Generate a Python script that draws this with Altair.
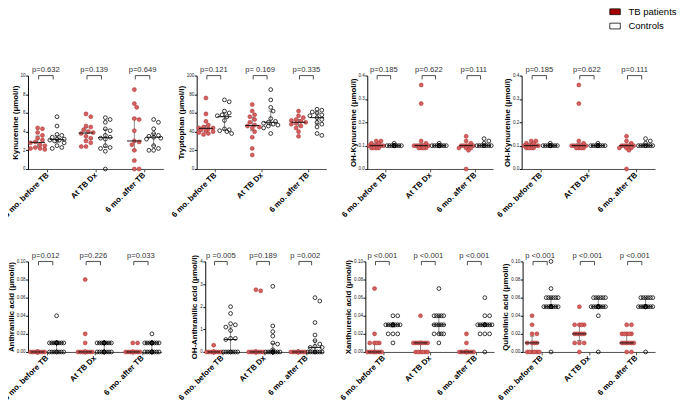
import math
import altair as alt
import pandas as pd
import numpy as np

# ---------------- data ----------------
groups = ["6 mo. before TB", "At TB Dx", "6 mo. after TB"]
kinds = ["TB patients", "Controls"]

# Kynurenine
kyn_tb = [[4.4, 4.3, 3.9, 3.6, 3.3, 3.1, 2.9, 2.8, 2.6, 2.5, 2.3, 2.2, 2.2, 2.1],
          [5.9, 5.6, 4.6, 4.5, 4.2, 4.0, 3.9, 3.8, 3.5, 3.3, 3.0, 2.8, 2.4, 2.4],
          [8.5, 7.0, 6.6, 5.4, 5.3, 4.1, 3.0, 2.9, 2.6, 2.0, 0.9, 0.0, 0.0]]
kyn_c = [[5.6, 4.6, 3.7, 3.6, 3.4, 3.2, 3.2, 3.1, 3.1, 3.0, 2.8, 2.5, 2.3, 2.2],
         [5.5, 5.3, 5.0, 4.3, 4.1, 3.6, 3.4, 3.3, 3.2, 2.5, 2.3, 2.2, 1.9, 0.0],
         [5.3, 5.0, 4.3, 3.8, 3.6, 3.5, 3.4, 3.3, 3.2, 2.5, 2.2, 2.0, 2.0]]
kyn_p = ["p=0.632", "p=0.139", "p=0.649"]

# Tryptophan
trp_tb = [[76, 59, 51, 47, 45, 44, 44, 43, 42, 41, 40, 39, 38, 37],
          [69, 62, 58, 56, 53, 50, 47, 46, 45, 44, 40, 34, 22, 15],
          [62, 57, 55, 53, 52, 51, 50, 49, 48, 46, 44, 40, 35]]
trp_c = [[74, 72, 62, 60, 58, 57, 56, 52, 43, 42, 41, 40, 38],
         [85, 74, 66, 62, 54, 51, 50, 49, 48, 47, 46, 44, 38],
         [64, 63, 61, 60, 58, 57, 55, 53, 50, 48, 45, 38, 36]]
trp_p = ["p=0.121", "p= 0.169", "p=0.335"]

# OH-Kynurenine
ohk_tb = [[0.12, 0.12, 0.11, 0.11, 0.10, 0.10, 0.10, 0.10, 0.10, 0.09, 0.09, 0.09, 0.09],
          [0.36, 0.28, 0.12, 0.11, 0.10, 0.10, 0.10, 0.10, 0.10, 0.10, 0.09, 0.09, 0.09, 0.09],
          [0.14, 0.12, 0.11, 0.10, 0.10, 0.10, 0.10, 0.10, 0.09, 0.09, 0.09, 0.08, 0.0]]
ohk_c = [[0.11, 0.10, 0.10, 0.10, 0.10, 0.10, 0.10, 0.10, 0.10, 0.10, 0.10, 0.10],
         [0.11, 0.10, 0.10, 0.10, 0.10, 0.10, 0.10, 0.10, 0.10, 0.10, 0.10, 0.10],
         [0.13, 0.12, 0.11, 0.10, 0.10, 0.10, 0.10, 0.10, 0.10, 0.10, 0.10]]
ohk_p = ["p=0.185", "p=0.622", "p=0.111"]

# Anthranilic acid
aa_tb = [[0.0] * 12,
         [0.08, 0.02, 0.01] + [0.0] * 10,
         [0.01, 0.01] + [0.0] * 10]
aa_c = [[0.04] + [0.01] * 12 + [0.0] * 8,
        [0.01] * 12 + [0.0] * 10,
        [0.02] + [0.01] * 12 + [0.0] * 10]
aa_p = ["p=0.012", "p=0.226", "p=0.033"]

# OH-Anthranilic acid
oha_tb = [[0.3] + [0.0] * 12,
          [2.75, 2.7] + [0.0] * 12,
          [0.0] * 12]
oha_c = [[2.0, 1.7, 1.25, 1.2, 1.1, 0.95, 0.6, 0.6, 0.55] + [0.0] * 8,
         [2.9, 1.15, 0.9, 0.7, 0.4, 0.35, 0.1] + [0.0] * 12,
         [2.4, 2.25, 1.3, 0.75, 0.5, 0.35, 0.25, 0.2, 0.2] + [0.0] * 8]
oha_p = ["p =0.005", "p=0.189", "p =0.002"]

# Xanthurenic acid
xa_tb = [[0.07, 0.02, 0.01, 0.01, 0.01, 0.01] + [0.0] * 8,
         [0.04] + [0.01] * 8 + [0.0] * 6,
         [0.02, 0.01] + [0.0] * 10]
xa_c = [[0.04, 0.04] + [0.03] * 10 + [0.02] * 3 + [0.01],
        [0.07] + [0.04] * 5 + [0.03] * 5 + [0.02] * 4 + [0.01],
        [0.06] + [0.04] * 2 + [0.03] * 10 + [0.02] * 3 + [0.0]]
xa_p = ["p <0.001", "p <0.001", "p <0.001"]

# Quinolinic acid
qa_tb = [[0.04, 0.03, 0.02, 0.02, 0.01, 0.01, 0.01, 0.01] + [0.0] * 6,
         [0.05] + [0.03] * 4 + [0.02] * 5 + [0.01] * 3 + [0.0],
         [0.03] * 2 + [0.02] * 5 + [0.01] * 6 + [0.0] * 2]
qa_c = [[0.10, 0.07] + [0.06] * 6 + [0.05] * 12 + [0.0],
        [0.06] * 6 + [0.05] * 12 + [0.04] + [0.0],
        [0.06] * 6 + [0.05] * 12 + [0.0]]
qa_p = ["p <0.001", "p <0.001", "p <0.001"]

U = " (\u03bcmol/l)"
panels_row1 = [
    dict(title="Kynurenine" + U, ymax=10, ticks=[0, 2, 4, 6, 8, 10], fmt="d", tb=kyn_tb, c=kyn_c, p=kyn_p),
    dict(title="Tryptophan" + U, ymax=100, ticks=[0, 20, 40, 60, 80, 100], fmt="d", tb=trp_tb, c=trp_c, p=trp_p),
    dict(title="OH-Kynurenine" + U, ymax=0.4, ticks=[0, 0.1, 0.2, 0.3, 0.4], fmt=".1f", tb=ohk_tb, c=ohk_c, p=ohk_p),
    dict(title="OH-Kynurenine" + U, ymax=0.4, ticks=[0, 0.1, 0.2, 0.3, 0.4], fmt=".1f", tb=ohk_tb, c=ohk_c, p=ohk_p),
]
panels_row2 = [
    dict(title="Anthranilic acid" + U, ymax=0.10, ticks=[0, 0.02, 0.04, 0.06, 0.08, 0.10], fmt=".2f", tb=aa_tb, c=aa_c, p=aa_p),
    dict(title="OH-Anthranilic acid" + U, ymax=4, ticks=[0, 1, 2, 3, 4], fmt="d", tb=oha_tb, c=oha_c, p=oha_p),
    dict(title="Xanthurenic acid" + U, ymax=0.10, ticks=[0, 0.02, 0.04, 0.06, 0.08, 0.10], fmt=".2f", tb=xa_tb, c=xa_c, p=xa_p),
    dict(title="Quinolinic acid" + U, ymax=0.10, ticks=[0, 0.02, 0.04, 0.06, 0.08, 0.10], fmt=".2f", tb=qa_tb, c=qa_c, p=qa_p),
]

# ---------------- layout / style ----------------
XMAX = 7.0
TB_POS = [0.5, 3.0, 5.5]
C_POS = [1.5, 4.0, 6.5]
LAB_POS = [1.0, 3.5, 6.0]
ROW1_W = [142, 136, 132, 140]
ROW1_GAP = [35, 43, 30]
ROW2_W = [140, 124, 135, 139]
ROW2_GAP = [46, 44, 30]
ROW1_H = 98
ROW2_H = 95
FONT = "Liberation Sans"
TB_FILL = "#d4605f"
TB_STROKE = "#a52a2a"
STEP, COLL, MAXK = 2.5, 4.4, 3


def swarm(vals, ymax, h, w):
    xunit = w / XMAX
    order = sorted(range(len(vals)), key=lambda i: -vals[i])
    cands = [0.0]
    for k in range(1, MAXK + 1):
        cands += [k * STEP, -k * STEP]
    placed = []
    offs = [0.0] * len(vals)
    for i in order:
        y = vals[i] / ymax * h
        best, bestd = 0.0, -1.0
        for c in cands:
            d = min((math.hypot(c - px, y - py) for px, py in placed), default=1e9)
            if d >= COLL:
                best = c
                break
            if d > bestd:
                best, bestd = c, d
        placed.append((best, y))
        offs[i] = best / xunit
    return offs


label_expr = (f"datum.value < 2 ? '{groups[0]}' : datum.value < 5 ? '{groups[1]}' : '{groups[2]}'")


def make_panel(spec, w, h, legend=False):
    ymax = spec["ymax"]
    pts, summ, br = [], [], []
    for g in range(3):
        for kind, pos, vals in (("tb", TB_POS[g], spec["tb"][g]), ("c", C_POS[g], spec["c"][g])):
            offs = swarm(vals, ymax, h, w)
            for v, o in zip(vals, offs):
                pts.append(dict(x=pos + o, y=v, kind=kind))
            a = np.array(vals, dtype=float)
            summ.append(dict(kind=kind, pos=pos, med=float(np.median(a)),
                             q1=float(np.percentile(a, 25)), q3=float(np.percentile(a, 75)),
                             ml=pos - 0.38, mr=pos + 0.38, cl=pos - 0.12, cr=pos + 0.12))
        x1, x2 = TB_POS[g] + 0.05, C_POS[g] - 0.2
        br.append(dict(x1=x1, x2=x2, xm=(x1 + x2) / 2, y=ymax, ycap=ymax * (1 - 4.0 / h), txt=spec["p"][g]))
    pts = pd.DataFrame(pts)
    summ = pd.DataFrame(summ)
    br = pd.DataFrame(br)

    xscale = alt.Scale(domain=[0, XMAX], nice=False, zero=False)
    yscale = alt.Scale(domain=[0, ymax], nice=False)
    xaxis = alt.Axis(values=LAB_POS, labelExpr=label_expr, labelAngle=-45, labelAlign="right",
                     labelBaseline="middle", labelFontSize=8.3, labelFontWeight="bold", labelFont=FONT,
                     labelColor="black", tickSize=3, tickColor="#444", domainColor="#444",
                     labelPadding=2, grid=False, title=None, labelOverlap=False, labelBound=False)
    yaxis = alt.Axis(values=spec["ticks"], format=spec["fmt"], title=spec["title"], titleFont=FONT,
                     titleFontSize=8.3, titleFontWeight="bold", titleColor="black", titlePadding=1,
                     labelFontSize=4.8, labelFont=FONT, labelColor="#222", labelPadding=0.5,
                     tickSize=2.5, tickColor="black", domainColor="black", grid=False, labelOverlap=False,
                     labelFlush=False)

    def X(f):
        return alt.X(f, type="quantitative", scale=xscale, axis=xaxis)

    def Y(f):
        return alt.Y(f, type="quantitative", scale=yscale, axis=yaxis)

    ptb = alt.Chart(pts[pts.kind == "tb"]).mark_circle(
        size=18, fill=TB_FILL, stroke=TB_STROKE, strokeWidth=0.5, opacity=1).encode(x=X("x"), y=Y("y"))
    pc = alt.Chart(pts[pts.kind == "c"]).mark_point(
        shape="circle", filled=False, size=16, stroke="black", strokeWidth=0.8, opacity=1).encode(x=X("x"), y=Y("y"))
    sb = alt.Chart(summ)
    ebar = sb.mark_rule(color="#666", strokeWidth=0.8).encode(x=X("pos"), y=Y("q1"), y2="q3")
    cap1 = sb.mark_rule(color="#666", strokeWidth=0.8).encode(x=X("cl"), x2="cr", y=Y("q1"))
    cap2 = sb.mark_rule(color="#666", strokeWidth=0.8).encode(x=X("cl"), x2="cr", y=Y("q3"))
    med = sb.mark_rule(color="#111", strokeWidth=1).encode(x=X("ml"), x2="mr", y=Y("med"))
    bb = alt.Chart(br)
    bline = bb.mark_rule(color="#333", strokeWidth=0.9).encode(x=X("x1"), x2="x2", y=Y("y"))
    bcap1 = bb.mark_rule(color="#333", strokeWidth=0.9).encode(x=X("x1"), y=Y("y"), y2="ycap")
    bcap2 = bb.mark_rule(color="#333", strokeWidth=0.9).encode(x=X("x2"), y=Y("y"), y2="ycap")
    btxt = bb.mark_text(fontSize=8, font=FONT, color="#333", baseline="bottom", dy=-2).encode(
        x=X("xm"), y=Y("y"), text="txt:N")
    layers = [ebar, cap1, cap2, ptb, pc, med, bline, bcap1, bcap2, btxt]
    if legend:
        ldf = pd.DataFrame({"kind": kinds, "x": [None, None], "y": [None, None]})
        leg = alt.Chart(ldf).mark_point(filled=True, shape="M-1,-0.55H1V0.55H-1Z", stroke="black",
                                        strokeWidth=0.8, size=121, opacity=1).encode(
            x=X("x"), y=Y("y"),
            fill=alt.Fill("kind:N", scale=alt.Scale(domain=kinds, range=["#a80000", "white"]),
                          legend=alt.Legend(orient="none", legendX=610, legendY=-73, title=None,
                                            symbolType="M-1,-0.55H1V0.55H-1Z", symbolSize=121,
                                            symbolStrokeColor="black", symbolStrokeWidth=0.8,
                                            labelFontSize=10, labelFont=FONT, labelColor="black",
                                            rowPadding=4, labelOffset=8)))
        layers.append(leg)
    return alt.layer(*layers).properties(width=w, height=h)


def spacer(w, h):
    return alt.Chart(pd.DataFrame({"s": [0]})).mark_point(opacity=0).encode(
        x=alt.value(0), y=alt.value(0)).properties(width=w, height=h)


def make_row(specs, widths, gaps, h, legend_idx=None):
    items = []
    for i, (s, w) in enumerate(zip(specs, widths)):
        items.append(make_panel(s, w, h, legend=(i == legend_idx)))
        if i < len(gaps):
            items.append(spacer(gaps[i], h))
    return alt.hconcat(*items, spacing=0, bounds="flush")


row1 = make_row(panels_row1, ROW1_W, ROW1_GAP, ROW1_H, legend_idx=3)
row2 = make_row(panels_row2, ROW2_W, ROW2_GAP, ROW2_H)
# nested rows count as zero height under flush bounds: spacing = row-1 height + gap
chart = alt.vconcat(row1, row2, spacing=ROW1_H + 97, bounds="flush").properties(
    padding={"left": -7, "top": -12, "right": 0, "bottom": 0}
).configure_view(stroke=None)

chart.save("out.html", embed_options={"renderer": "svg", "actions": False})
